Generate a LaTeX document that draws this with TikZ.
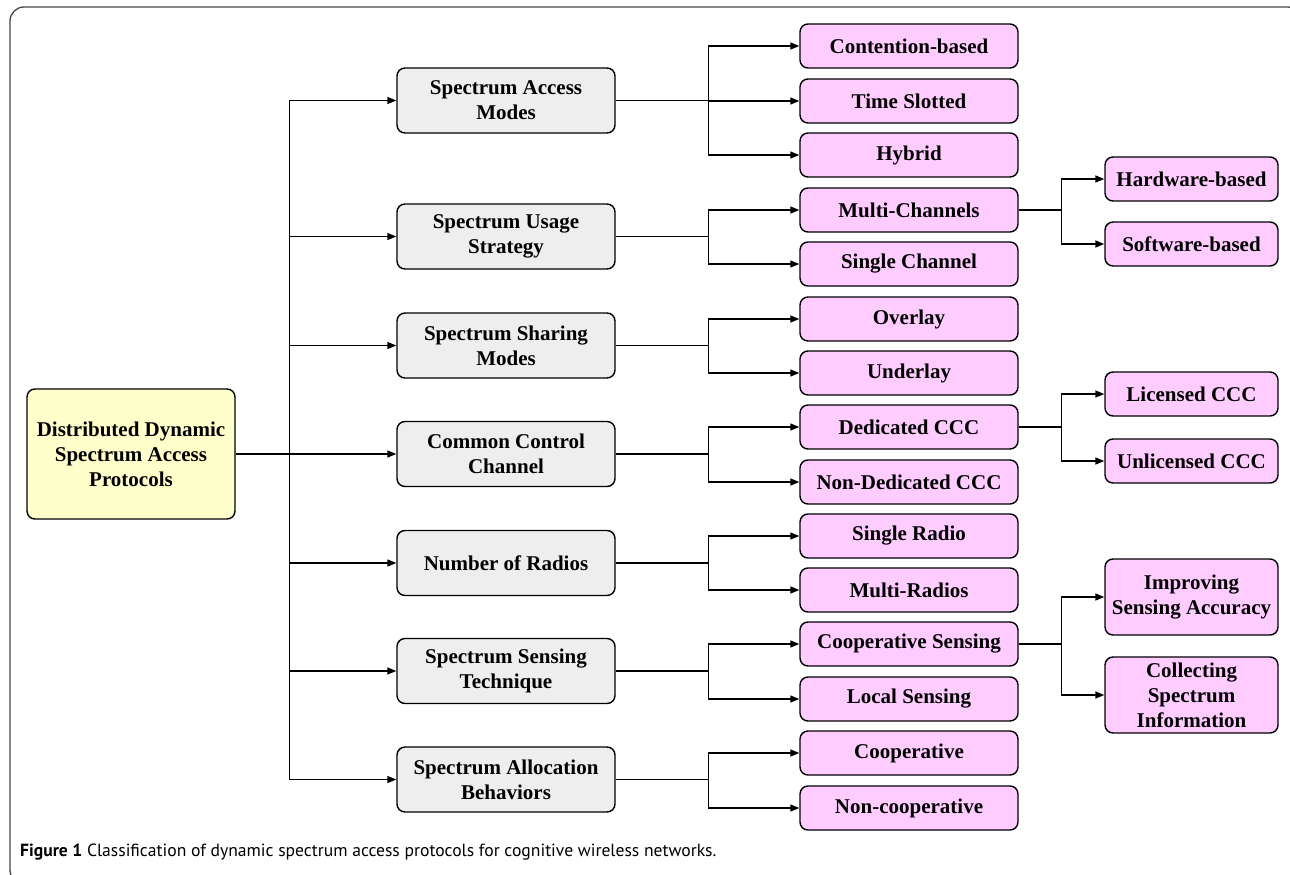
\documentclass[tikz,border=0pt]{standalone}
\usepackage{fontspec}
\setmainfont{Liberation Serif}
\newfontfamily\capfont{PT Sans}
\usetikzlibrary{arrows.meta}
\definecolor{rootfill}{RGB}{255,255,204}
\definecolor{catfill}{RGB}{238,238,238}
\definecolor{leaffill}{RGB}{255,204,255}
\definecolor{framegray}{RGB}{70,70,70}
\tikzset{
  box/.style={draw=black, line width=1.4pt, rounded corners=8pt, align=center,
    inner sep=0pt, font=\bfseries\fontsize{21}{25}\selectfont},
  rootbox/.style={box, fill=rootfill, minimum width=208, minimum height=130},
  catbox/.style={box, fill=catfill, minimum width=218, minimum height=65},
  leafbox/.style={box, fill=leaffill, minimum width=218, minimum height=44},
  subbox/.style={box, fill=leaffill, minimum width=173, minimum height=44},
  tallbox/.style={subbox, minimum height=76},
  link/.style={draw=black, line width=1.4pt},
  arr/.style={link, -{Triangle[length=9pt,width=7pt]}}
}
\begin{document}
\begin{tikzpicture}[x=1pt,y=-1pt]
\useasboundingbox (0,0) rectangle (1290,875);
\fill[white] (0,0) rectangle (1290,875);
% outer frame, partly cut by the page edge
\begin{scope}
  \clip (0,0) rectangle (1290,875);
  \draw[framegray, line width=1.3pt, rounded corners=14pt] (10,7) rectangle (1302,884);
\end{scope}

% root
\node[rootbox] (root) at (131,454) {Distributed Dynamic\\Spectrum Access\\Protocols};

% categories
\node[catbox] (c1) at (506,100.5) {Spectrum Access\\Modes};
\node[catbox] (c2) at (506,236.5) {Spectrum Usage\\Strategy};
\node[catbox] (c3) at (506,345.5) {Spectrum Sharing\\Modes};
\node[catbox] (c4) at (506,454) {Common Control\\Channel};
\node[catbox] (c5) at (506,563) {Number of Radios};
\node[catbox] (c6) at (506,671) {Spectrum Sensing\\Technique};
\node[catbox] (c7) at (506,779.5) {Spectrum Allocation\\Behaviors};

% second level
\node[leafbox] (l1)  at (909,46)  {Contention-based};
\node[leafbox] (l2)  at (909,101) {Time Slotted};
\node[leafbox] (l3)  at (909,155) {Hybrid};
\node[leafbox] (l4)  at (909,210) {Multi-Channels};
\node[leafbox] (l5)  at (909,264) {Single Channel};
\node[leafbox] (l6)  at (909,319) {Overlay};
\node[leafbox] (l7)  at (909,373) {Underlay};
\node[leafbox] (l8)  at (909,427) {Dedicated CCC};
\node[leafbox] (l9)  at (909,482) {Non-Dedicated CCC};
\node[leafbox] (l10) at (909,536) {Single Radio};
\node[leafbox] (l11) at (909,590) {Multi-Radios};
\node[leafbox] (l12) at (909,644) {Cooperative Sensing};
\node[leafbox] (l13) at (909,699) {Local Sensing};
\node[leafbox] (l14) at (909,753) {Cooperative};
\node[leafbox] (l15) at (909,808) {Non-cooperative};

% third level
\node[subbox] (s1) at (1191.5,179) {Hardware-based};
\node[subbox] (s2) at (1191.5,244) {Software-based};
\node[subbox] (s3) at (1191.5,394) {Licensed CCC};
\node[subbox] (s4) at (1191.5,461) {Unlicensed CCC};
\node[tallbox] (s5) at (1191.5,597) {Improving\\Sensing Accuracy};
\node[tallbox] (s6) at (1191.5,695) {Collecting\\Spectrum\\Information};

% root to categories
\foreach \c in {c1,c2,c3,c4,c5,c6,c7}
  \draw[arr] (root.east) -- ++(54,0) |- (\c.west);

% categories to second level
\foreach \p/\k in {c1/l1,c1/l2,c1/l3,c2/l4,c2/l5,c3/l6,c3/l7,c4/l8,c4/l9,c5/l10,c5/l11,c6/l12,c6/l13,c7/l14,c7/l15}
  \draw[arr] (\p.east) -- ++(93,0) |- (\k.west);

% second level to third level
\foreach \p/\k in {l4/s1,l4/s2,l8/s3,l8/s4,l12/s5,l12/s6}
  \draw[arr] (\p.east) -- ++(43,0) |- (\k.west);

% caption
\node[anchor=base west, inner sep=0pt, font=\capfont\fontsize{17.6}{20}\selectfont] (cap) at (20,856)
  {\textbf{Figure 1} Classification of dynamic spectrum access protocols for cognitive wireless networks.};
\end{tikzpicture}
\end{document}
